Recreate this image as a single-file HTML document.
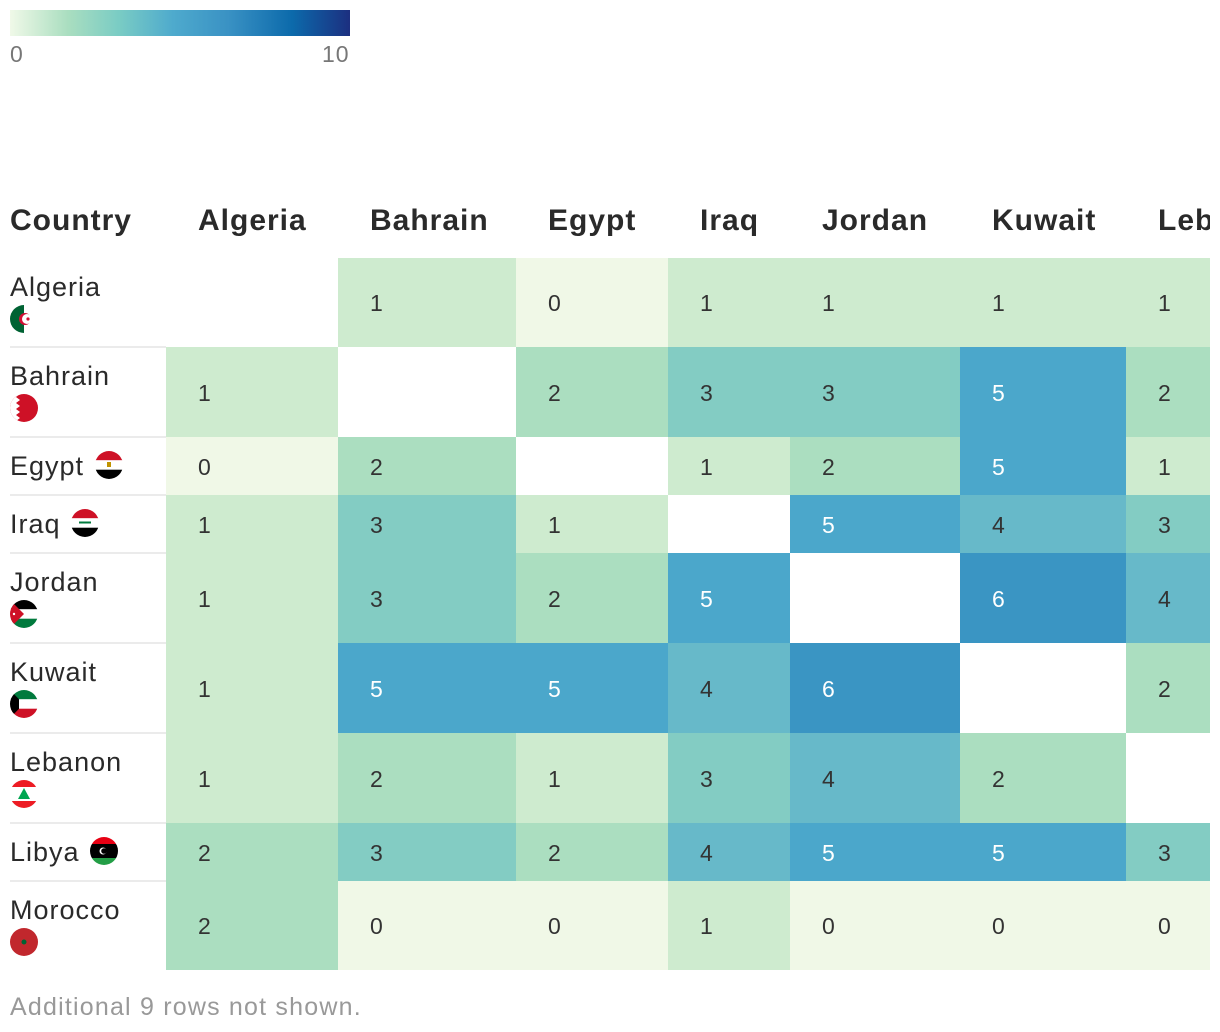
<!DOCTYPE html>
<html><head><meta charset="utf-8">
<style>
body{margin:0;width:1220px;height:1032px;overflow:hidden;background:#fff;font-family:"Liberation Sans","DejaVu Sans",sans-serif;position:relative}
.a{position:absolute}
.hdr{position:absolute;top:202px;font-weight:bold;font-size:30px;letter-spacing:1px;color:#2a2a2a;line-height:38px;white-space:nowrap}
.cell{position:absolute;font-size:23px;line-height:23px;box-sizing:border-box;display:flex;align-items:center;padding-top:2px}
.lab{position:absolute;left:10px;font-size:27px;letter-spacing:1px;color:#2a2a2a;white-space:nowrap;line-height:30px}
.sep{position:absolute;left:10px;width:156px;height:2px;background:#ebebeb}
</style></head><body>
<div class="a" style="left:10px;top:10px;width:340px;height:26px;background:linear-gradient(to right,#f0f9e8,#aadec0 17%,#7accc4 32%,#4eaacd 48%,#3a92c4 64%,#0c6aab 83%,#1c2f80)"></div>
<div class="a" style="left:10px;top:41px;font-size:23px;color:#777">0</div>
<div class="a" style="left:322px;top:41px;font-size:23px;letter-spacing:1px;color:#777">10</div>
<div id="wrap" class="a" style="left:0;top:0;width:1210px;height:1032px;overflow:hidden"></div>
<div class="a" style="left:10px;top:993px;font-size:25px;letter-spacing:1.2px;color:#999">Additional 9 rows not shown.</div>
<script>
const cols=["Algeria","Bahrain","Egypt","Iraq","Jordan","Kuwait","Lebanon"];
const rows=["Algeria","Bahrain","Egypt","Iraq","Jordan","Kuwait","Lebanon","Libya","Morocco"];
const values=[
[null,1,0,1,1,1,1],
[1,null,2,3,3,5,2],
[0,2,null,1,2,5,1],
[1,3,1,null,5,4,3],
[1,3,2,5,null,6,4],
[1,5,5,4,6,null,2],
[1,2,1,3,4,2,null],
[2,3,2,4,5,5,3],
[2,0,0,1,0,0,0]];
const colX=[166,338,516,668,790,960,1126,1300];
const rowY=[258,347,437,495,553,643,733,823,881,970];
const palette=["#f0f8e7","#ceebcf","#abdec0","#83ccc3","#67b9c9","#4ba7cb","#3a95c3","#2a80b9","#1468a9","#0d4e96","#1c2f80"];
const wrap=document.getElementById('wrap');
function flag(n){
 const s='<svg width="28" height="28" viewBox="0 0 28 28"><defs><clipPath id="c'+n+'"><circle cx="14" cy="14" r="14"/></clipPath></defs><g clip-path="url(#c'+n+')">';
 const f={
 Algeria:'<rect width="14" height="28" fill="#006233"/><rect x="14" width="14" height="28" fill="#fff"/><circle cx="15" cy="14" r="6" fill="#d21034"/><circle cx="17" cy="14" r="5" fill="#fff"/><circle cx="18" cy="14" r="1.6" fill="#d21034"/>',
 Bahrain:'<rect width="28" height="28" fill="#ce1126"/><polygon points="0,0 10,0 6,3 10,6 6,9 10,12 6,15 10,18 6,21 10,24 6,27 10,28 0,28" fill="#fff"/>',
 Egypt:'<rect width="28" height="9.3" fill="#ce1126"/><rect y="9.3" width="28" height="9.4" fill="#fff"/><rect y="18.7" width="28" height="9.3" fill="#000"/><rect x="12" y="11" width="4" height="5" fill="#c09300"/>',
 Iraq:'<rect width="28" height="9.3" fill="#ce1126"/><rect y="9.3" width="28" height="9.4" fill="#fff"/><rect y="18.7" width="28" height="9.3" fill="#000"/><rect x="8" y="12.5" width="12" height="2" fill="#007a3d"/>',
 Jordan:'<rect width="28" height="9.3" fill="#000"/><rect y="9.3" width="28" height="9.4" fill="#fff"/><rect y="18.7" width="28" height="9.3" fill="#007a3d"/><polygon points="0,0 14,14 0,28" fill="#ce1126"/><circle cx="4" cy="14" r="1.2" fill="#fff"/>',
 Kuwait:'<rect width="28" height="9.3" fill="#007a3d"/><rect y="9.3" width="28" height="9.4" fill="#fff"/><rect y="18.7" width="28" height="9.3" fill="#ce1126"/><polygon points="0,0 9,9.3 9,18.7 0,28" fill="#000"/>',
 Lebanon:'<rect width="28" height="7" fill="#ed1c24"/><rect y="7" width="28" height="14" fill="#fff"/><rect y="21" width="28" height="7" fill="#ed1c24"/><polygon points="14,8 20,19 8,19" fill="#00a651"/>',
 Libya:'<rect width="28" height="7" fill="#e70013"/><rect y="7" width="28" height="14" fill="#000"/><rect y="21" width="28" height="7" fill="#239e46"/><circle cx="13" cy="14" r="3.5" fill="#fff"/><circle cx="14" cy="14" r="2.8" fill="#000"/>',
 Morocco:'<rect width="28" height="28" fill="#c1272d"/><circle cx="14" cy="14" r="2.5" fill="#006233"/>'}[n];
 return s+f+'</g></svg>';
}
const hc=document.createElement('div');hc.className='hdr';hc.style.left='10px';hc.textContent='Country';


wrap.appendChild(hc);
cols.forEach((c,j)=>{
 const h=document.createElement('div');h.className='hdr';h.style.left=(colX[j]+32)+'px';h.textContent=c;
 
 
 wrap.appendChild(h);
});
rows.forEach((r,i)=>{
 const top=rowY[i],h=rowY[i+1]-top,tall=h>70;
 const l=document.createElement('div');l.className='lab';
 
 
 if(tall){l.style.top=(top+14)+'px';l.innerHTML=r+'<div style="margin-top:3px;height:28px">'+flag(r)+'</div>';}
 else{l.style.top=(top+h/2-15)+'px';l.innerHTML=r+' <span style="display:inline-block;vertical-align:-4px;margin-left:2px">'+flag(r)+'</span>';}
 wrap.appendChild(l);
 if(i>0){const s=document.createElement('div');s.className='sep';s.style.top=(top-1)+'px';
  
  
  wrap.appendChild(s);}
 cols.forEach((c,j)=>{
  const v=values[i][j];if(v===null)return;
  const d=document.createElement('div');d.className='cell';
  
  
  d.style.left=colX[j]+'px';d.style.top=top+'px';d.style.width=(colX[j+1]-colX[j])+'px';d.style.height=h+'px';
  d.style.paddingLeft='32px';d.style.background=palette[v];d.style.color=v>=5?'#fff':'#333';
  d.textContent=v;wrap.appendChild(d);
 });
});
</script>
</body></html>
